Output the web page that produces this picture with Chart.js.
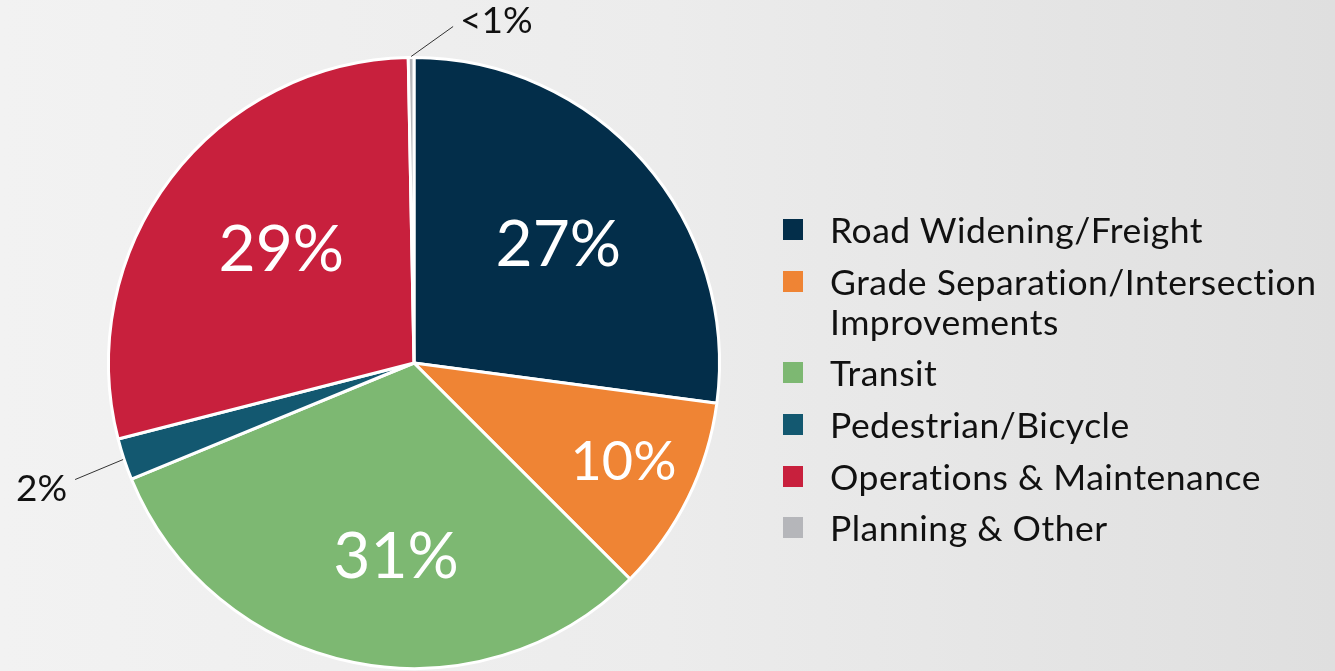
<!DOCTYPE html>
<html>
<head>
<meta charset="utf-8">
<script src="https://cdn.jsdelivr.net/npm/chart.js@4.4.1/dist/chart.umd.min.js"></script>
<style>
  html, body { margin: 0; padding: 0; width: 1335px; height: 671px; overflow: hidden; }
  body { background: linear-gradient(to right, #f2f2f2 0%, #ececec 50%, #dfdfdf 100%); font-family: Lato, "Noto Sans", sans-serif; }
  #wrap { position: absolute; left: 0; top: 0; width: 1335px; height: 671px; }
  #legend { position: absolute; left: 783px; top: 210px; margin: 0; padding: 0; list-style: none; }
  #legend li { position: relative; padding-left: 47px; font-size: 35.5px; letter-spacing: 0.5px; line-height: 40px; margin-bottom: 11.7px; color: #111; white-space: nowrap; }
  #legend li span.box { position: absolute; left: 0; top: 9px; width: 20px; height: 21px; }
</style>
</head>
<body>
<div id="wrap"><canvas id="pie" width="1335" height="671"></canvas></div>
<ul id="legend"></ul>
<script>
// categories, values and the printed percentages
const categories = [
    "Road Widening/Freight",
    ["Grade Separation/Intersection", "Improvements"],
    "Transit",
    "Pedestrian/Bicycle",
    "Operations & Maintenance",
    "Planning & Other"
];
const shares = [27.1, 10.4, 31.3, 2.2, 28.7, 0.3];
const shareLabels = ["27%", "10%", "31%", "2%", "29%", "<1%"];
const sliceColors = ["#032e4a", "#ef8434", "#7db872", "#135870", "#c8203d", "#b5b6ba"];

// where the percentages go: fraction of radius + fraction along the slice, null = callout
const insideRadius = [0.61, 0.76, 0.64, null, 0.57, null];
const insideAngle = [0.52, 0.48, 0.446, 0.5, 0.53, 0.5];
const insideSize = [64, 54, 64, 0, 64, 0];
const callouts = {
    3: { dx: -48, dy: 20, align: "right", tx: -8, ty: 10 },
    5: { dx: 42, dy: -30, align: "left", tx: 7, ty: -5 }
};

const labelPlugin = {
    id: "sliceLabels",
    afterDatasetsDraw(chart) {
        const ctx = chart.ctx;
        const arcs = chart.getDatasetMeta(0).data;
        arcs.forEach((arc, i) => {
            const { x, y, startAngle, endAngle, outerRadius } = arc.getProps(["x", "y", "startAngle", "endAngle", "outerRadius"], true);
            const ang = startAngle + (endAngle - startAngle) * insideAngle[i];
            ctx.save();
            if (insideRadius[i] !== null) {
                const r = outerRadius * insideRadius[i];
                ctx.fillStyle = "#ffffff";
                ctx.font = "400 " + insideSize[i] + "px Lato, 'Noto Sans', sans-serif";
                ctx.textAlign = "center";
                ctx.textBaseline = "middle";
                ctx.fillText(shareLabels[i], x + Math.cos(ang) * r, y + Math.sin(ang) * r);
            } else {
                const c = callouts[i];
                const sx = x + Math.cos(ang) * (outerRadius + 1);
                const sy = y + Math.sin(ang) * (outerRadius + 1);
                const ex = sx + c.dx, ey = sy + c.dy;
                ctx.strokeStyle = "#333";
                ctx.lineWidth = 1;
                ctx.beginPath();
                ctx.moveTo(sx, sy);
                ctx.lineTo(ex, ey);
                ctx.stroke();
                ctx.fillStyle = "#111";
                ctx.font = "400 37px Lato, 'Noto Sans', sans-serif";
                ctx.textAlign = c.align;
                ctx.textBaseline = "middle";
                ctx.fillText(shareLabels[i], ex + c.tx, ey + c.ty);
            }
            ctx.restore();
        });
    }
};

const chart = new Chart(document.getElementById("pie"), {
    type: "pie",
    data: {
        labels: categories,
        datasets: [{
            data: shares,
            backgroundColor: sliceColors,
            borderColor: "#ffffff",
            borderWidth: 3
        }]
    },
    options: {
        responsive: false,
        animation: false,
        layout: { padding: { left: 107, top: 56, right: 614, bottom: 1 } },
        plugins: { legend: { display: false }, tooltip: { enabled: false } }
    },
    plugins: [labelPlugin]
});

// html legend, built from the same arrays
const legendEl = document.getElementById("legend");
categories.forEach((cat, i) => {
    const li = document.createElement("li");
    const box = document.createElement("span");
    box.className = "box";
    box.style.background = sliceColors[i];
    li.appendChild(box);
    const lines = Array.isArray(cat) ? cat : [cat];
    lines.forEach((line, j) => {
        if (j > 0) li.appendChild(document.createElement("br"));
        li.appendChild(document.createTextNode(line));
    });
    legendEl.appendChild(li);
});
</script>
</body>
</html>
